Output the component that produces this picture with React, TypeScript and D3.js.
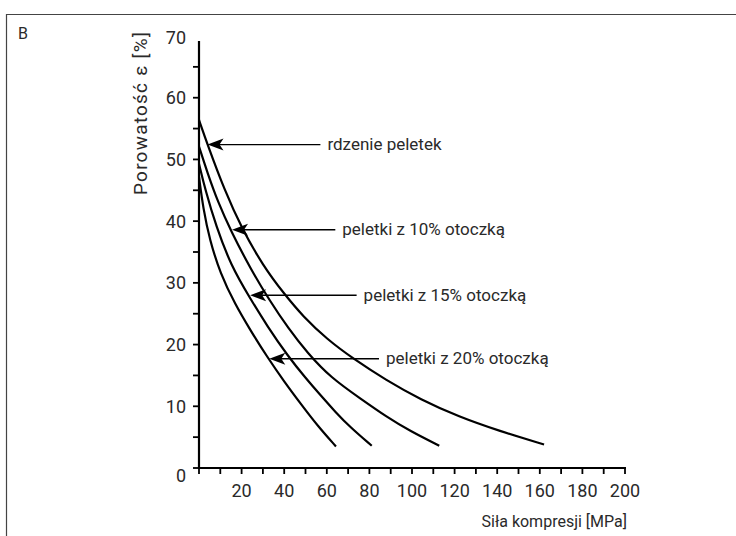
import React, { useEffect, useRef } from 'react'
import * as d3 from 'd3'

const W = 736
const H = 536

// compression force [MPa] / porosity [%]
const coreForce = [0, 4, 12, 20, 30, 40, 49, 60, 72, 88, 104, 122, 141, 162]
const corePorosity = [56.4, 52.4, 45, 38.9, 32.8, 28.2, 24.5, 20.9, 17.8, 14.2, 11.1, 8.3, 6, 3.8]

const coat10Force = [0, 4, 9, 15, 24, 33, 42, 51, 62, 76, 88, 99, 112.8]
const coat10Porosity = [52.1, 47.8, 43, 38.4, 32.4, 27.2, 22.6, 18.6, 14.6, 11.2, 8.3, 6, 3.6]

const coat15Force = [0, 3, 8, 15, 24, 32, 42, 50, 57, 64, 71, 81.1]
const coat15Porosity = [49.3, 45, 39.2, 32.8, 27.5, 23, 18, 14.6, 11.8, 9.1, 6.6, 3.6]

const coat20Force = [0, 2, 5, 10, 17, 24, 32, 40, 48, 56, 64.3]
const coat20Porosity = [47.2, 42, 37, 31.5, 26.5, 22.4, 18, 14, 10.3, 6.7, 3.5]

const seriesNames = ['rdzenie peletek', 'peletki z 10% otoczką', 'peletki z 15% otoczką', 'peletki z 20% otoczką']
const arrowTipForce = [4, 15.5, 24, 33]
const arrowTipPorosity = [52.4, 38.6, 28, 17.7]
const arrowTailForce = [57, 64, 74, 84.5]

const yTicks = [10, 20, 30, 40, 50, 60, 70]
const xTicks = [20, 40, 60, 80, 100, 120, 140, 160, 180, 200]

const FONT = 'Roboto, "Open Sans", sans-serif'

export default function App() {
  const ref = useRef<SVGSVGElement>(null)

  useEffect(() => {
    const svg = d3.select(ref.current)
    svg.selectAll('*').remove()

    const x = d3.scaleLinear().domain([0, 200]).range([199, 625])
    const y = d3.scaleLinear().domain([0, 70]).range([468, 36])
    const ink = '#2a2a2a'

    // frame of the figure panel
    svg.append('path')
      .attr('d', `M6.5,${H} L6.5,14.5 L${W},14.5`)
      .attr('fill', 'none')
      .attr('stroke', '#444')
      .attr('stroke-width', 1.2)

    svg.append('text')
      .attr('x', 18).attr('y', 39)
      .attr('font-family', FONT).attr('font-size', 16).attr('fill', ink)
      .text('B')

    // y axis
    const g = svg.append('g').attr('stroke', '#000')
    g.append('line')
      .attr('x1', x(0)).attr('x2', x(0))
      .attr('y1', y(0) + 1).attr('y2', y(69.2))
      .attr('stroke-width', 2.2)
    d3.range(0, 70, 5).forEach(v => {
      g.append('line')
        .attr('x1', x(0) - 6).attr('x2', x(0))
        .attr('y1', y(v)).attr('y2', y(v))
        .attr('stroke-width', 1.8)
    })

    // x axis
    g.append('line')
      .attr('x1', x(0) - 1).attr('x2', x(200) + 1)
      .attr('y1', y(0)).attr('y2', y(0))
      .attr('stroke-width', 2.2)
    d3.range(0, 201, 10).forEach(v => {
      g.append('line')
        .attr('x1', x(v)).attr('x2', x(v))
        .attr('y1', y(0)).attr('y2', y(0) + 6)
        .attr('stroke-width', 1.8)
    })

    const txt = svg.append('g')
      .attr('font-family', FONT).attr('fill', ink)

    txt.selectAll('text.yt').data(yTicks).join('text')
      .attr('class', 'yt')
      .attr('x', 186).attr('y', d => y(d) + (d === 70 ? 2 : 0))
      .attr('dy', '0.36em')
      .attr('text-anchor', 'end')
      .attr('font-size', 18)
      .text(d => d)

    txt.append('text')
      .attr('x', 186).attr('y', 482)
      .attr('text-anchor', 'end').attr('font-size', 18)
      .text('0')

    txt.selectAll('text.xt').data(xTicks).join('text')
      .attr('class', 'xt')
      .attr('x', d => x(d)).attr('y', 497)
      .attr('text-anchor', 'middle')
      .attr('font-size', 18)
      .text(d => d)

    txt.append('text')
      .attr('x', 627).attr('y', 527)
      .attr('text-anchor', 'end')
      .attr('font-size', 16)
      .text('Siła kompresji [MPa]')

    txt.append('text')
      .attr('transform', 'translate(147,195) rotate(-90)')
      .attr('font-size', 19)
      .attr('textLength', 163).attr('lengthAdjust', 'spacing')
      .text('Porowatość ε [%]')

    // curves
    const line = d3.line<[number, number]>()
      .x(d => x(d[0]))
      .y(d => y(d[1]))
      .curve(d3.curveBasis)

    const data: [number, number][][] = [
      d3.zip(coreForce, corePorosity) as [number, number][],
      d3.zip(coat10Force, coat10Porosity) as [number, number][],
      d3.zip(coat15Force, coat15Porosity) as [number, number][],
      d3.zip(coat20Force, coat20Porosity) as [number, number][],
    ]

    svg.append('g').selectAll('path').data(data).join('path')
      .attr('d', d => line(d))
      .attr('fill', 'none')
      .attr('stroke', '#000')
      .attr('stroke-width', 2.2)

    // label arrows
    seriesNames.forEach((name, i) => {
      const tx = x(arrowTipForce[i])
      const ty = y(arrowTipPorosity[i])
      const ex = x(arrowTailForce[i])
      svg.append('line')
        .attr('x1', tx + 10).attr('x2', ex)
        .attr('y1', ty).attr('y2', ty)
        .attr('stroke', '#000').attr('stroke-width', 1.4)
      svg.append('path')
        .attr('d', `M${tx},${ty} L${tx + 16},${ty - 6} L${tx + 12},${ty} L${tx + 16},${ty + 6} Z`)
        .attr('fill', '#000')
      txt.append('text')
        .attr('x', ex + 7).attr('y', ty)
        .attr('dy', '0.32em')
        .attr('font-size', 17)
        .text(name)
    })
  }, [])

  return (
    <svg ref={ref} width={W} height={H}
      style={{ position: 'absolute', left: 0, top: 0, background: '#fff' }} />
  )
}
